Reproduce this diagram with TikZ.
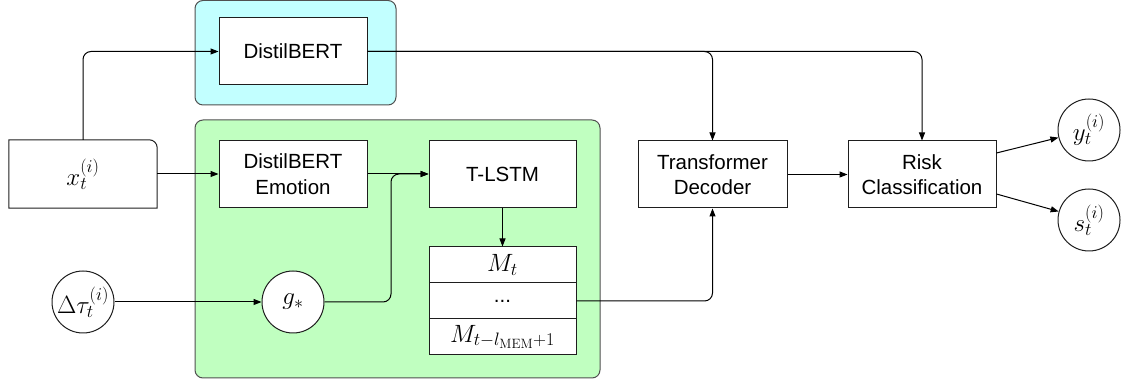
\RequirePackage{fix-cm}
\documentclass[tikz,border=0pt]{standalone}
\usepackage[no-math]{fontspec}
\setmainfont{Liberation Sans}
\DeclareMathSizes{25}{25}{18}{13.5}
\usetikzlibrary{arrows.meta,calc}
\definecolor{cyanpanel}{RGB}{194,255,255}
\definecolor{greenpanel}{RGB}{192,255,192}
\definecolor{paneledge}{RGB}{80,80,80}
\definecolor{ink}{RGB}{30,30,30}
\begin{document}
\begin{tikzpicture}[x=1pt,y=1pt,
  font=\fontsize{20.5}{25.5}\selectfont,
  mathtext/.style={font=\fontsize{25}{30}\selectfont},
  box/.style={draw=ink,fill=white,line width=1pt,minimum width=148pt,minimum height=67pt,inner sep=0pt,align=center},
  memrow/.style={draw=ink,fill=white,line width=1pt,minimum width=147pt,minimum height=36pt,inner sep=0pt},
  var/.style={draw=ink,fill=white,circle,line width=1pt,minimum size=62pt,inner sep=0pt,mathtext},
  panel/.style={draw=paneledge,line width=1pt,rounded corners=8pt},
  link/.style={draw=black,line width=1pt,rounded corners=8pt,-{Triangle[length=8pt,width=6pt]}},
]
\useasboundingbox (0,0) rectangle (1124,385);

% grouping panels
\draw[panel,fill=cyanpanel] (195,280) rectangle (396,384.5);
\draw[panel,fill=greenpanel] (195,7) rectangle (600,265);

% inputs
\node[mathtext,minimum width=148pt,minimum height=68pt,inner sep=0pt] (xt) at (83,211) {$x_t^{(i)}$};
\draw[ink,line width=1pt] (xt.south west) -- (xt.north west) -- ([xshift=-8pt]xt.north east)
  arc[start angle=90,end angle=0,radius=8pt] -- (xt.south east) -- cycle;
\node[var] (dtau) at (83,83) {$\Delta\tau_t^{(i)}$};

% encoders
\node[box] (dbert) at (293,333.5) {DistilBERT};
\node[box] (emo) at (293,211) {DistilBERT\\Emotion};
\node[var] (g) at (293,83) {$g_*$};
\node[box,minimum width=147pt] (tlstm) at (502.5,211) {T-LSTM};

% memory stack
\node[memrow,mathtext] (m1) at (502.5,120) {$M_t$};
\node[memrow] (m2) at (502.5,84) {...};
\node[memrow,mathtext] (m3) at (502.5,48) {$M_{t-l_{\mathrm{MEM}}+1}$};

% decoder and classifier
\node[box,minimum width=149pt] (td) at (712.5,210.5) {Transformer\\Decoder};
\node[box] (rc) at (922,210.5) {Risk\\Classification};

% outputs
\node[var] (yc) at (1089,255) {$y_t^{(i)}$};
\node[var] (sc) at (1089,165) {$s_t^{(i)}$};

\coordinate (j) at (391,211);

% connectors
\draw[link] (xt.north) |- (dbert.west);
\draw[link] (dbert.east) -| (td.north);
\draw[link] (dbert.east) -| (rc.north);
\draw[link] (xt.east) -- (emo.west);
\draw[link] (emo.east) -- (tlstm.west);
\draw[link] (dtau.east) -- (g.west);
\draw[link] (g.east) -| (j) -- (tlstm.west);
\draw[link] (tlstm.south) -- (m1.north);
\draw[link] (m2.east) -| (td.south);
\draw[link] (td.east) -- (rc.west);
\draw[link] ([yshift=21.5pt]rc.east) -- (yc);
\draw[link] ([yshift=-19.5pt]rc.east) -- (sc);
\end{tikzpicture}
\end{document}
